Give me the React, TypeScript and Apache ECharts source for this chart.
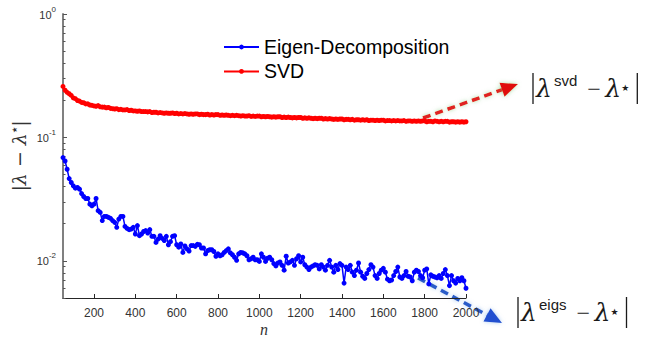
import React, { useEffect, useRef } from "react";
import * as echarts from "echarts";

const N_START = 50;
const N_STEP = 10;

const seriesNames = ["Eigen-Decomposition", "SVD"];

// |lambda - lambda*| for eigen-decomposition, n = 50, 60, ..., 2000
const eigValues = [
  0.0686, 0.0644, 0.0552, 0.0464, 0.0431, 0.0405, 0.0388, 0.0393, 0.0381, 0.0351,
  0.0332, 0.0320, 0.0320, 0.0288, 0.0279, 0.0288, 0.0320, 0.0255, 0.0247, 0.0212,
  0.0229, 0.0229, 0.0225, 0.0221, 0.0212, 0.0205, 0.0187, 0.0218, 0.0229, 0.0229,
  0.0190, 0.0183, 0.0179, 0.0181, 0.0187, 0.0165, 0.0193, 0.0160, 0.0165, 0.0173,
  0.0176, 0.0168, 0.0179, 0.0158, 0.0158, 0.0141, 0.0150, 0.0160, 0.0152, 0.0146,
  0.0158, 0.0135, 0.0143, 0.0158, 0.0160, 0.0135, 0.0129, 0.0137, 0.0117, 0.0132,
  0.0125, 0.0120, 0.0133, 0.0133, 0.0131, 0.0136, 0.0135, 0.0127, 0.0127, 0.0114,
  0.0121, 0.0123, 0.0123, 0.0119, 0.0109, 0.0114, 0.0110, 0.0112, 0.0117, 0.0121,
  0.0125, 0.0116, 0.0112, 0.0107, 0.0101, 0.0114, 0.0117, 0.0116, 0.0114, 0.0110,
  0.0102, 0.0104, 0.0107, 0.0102, 0.0102, 0.0099, 0.0114, 0.0107, 0.0099, 0.0105,
  0.0107, 0.0102, 0.0095, 0.0091, 0.0096, 0.0098, 0.0092, 0.0084, 0.0109, 0.0096,
  0.0098, 0.0101, 0.0092, 0.0104, 0.0110, 0.0098, 0.0107, 0.0093, 0.0089, 0.0085,
  0.0089, 0.0091, 0.0093, 0.0092, 0.0086, 0.0093, 0.0089, 0.0084, 0.0092, 0.0101,
  0.0089, 0.0081, 0.0092, 0.0085, 0.0095, 0.0092, 0.0066, 0.0089, 0.0085, 0.0092,
  0.0081, 0.0076, 0.0084, 0.0096, 0.0081, 0.0075, 0.0072, 0.0079, 0.0085, 0.0093,
  0.0089, 0.0076, 0.0072, 0.0079, 0.0084, 0.0087, 0.0081, 0.0071, 0.0069, 0.0070,
  0.0076, 0.0082, 0.0089, 0.0074, 0.0072, 0.0076, 0.0082, 0.0075, 0.0074, 0.0069,
  0.0081, 0.0084, 0.0082, 0.0076, 0.0073, 0.0084, 0.0086, 0.0065, 0.0077, 0.0075,
  0.0074, 0.0073, 0.0076, 0.0072, 0.0079, 0.0085, 0.0076, 0.0063, 0.0076, 0.0069,
  0.0066, 0.0072, 0.0069, 0.0073, 0.0069, 0.0060,
];

// |lambda - lambda*| for SVD, n = 50, 60, ..., 2000
const svdValues = [
  0.259, 0.241, 0.232, 0.226, 0.219, 0.209, 0.206, 0.199, 0.197, 0.192,
  0.191, 0.187, 0.187, 0.183, 0.182, 0.180, 0.179, 0.181, 0.177, 0.176,
  0.176, 0.174, 0.175, 0.172, 0.171, 0.170, 0.171, 0.168, 0.169, 0.167,
  0.167, 0.168, 0.165, 0.166, 0.164, 0.164, 0.163, 0.164, 0.162, 0.162,
  0.162, 0.161, 0.162, 0.159, 0.160, 0.160, 0.158, 0.159, 0.158, 0.157,
  0.158, 0.157, 0.157, 0.158, 0.156, 0.157, 0.155, 0.156, 0.155, 0.156,
  0.155, 0.154, 0.155, 0.154, 0.155, 0.155, 0.153, 0.154, 0.153, 0.153,
  0.154, 0.152, 0.153, 0.152, 0.153, 0.153, 0.151, 0.152, 0.151, 0.152,
  0.151, 0.150, 0.151, 0.150, 0.151, 0.150, 0.149, 0.150, 0.149, 0.149,
  0.150, 0.148, 0.149, 0.148, 0.149, 0.149, 0.147, 0.148, 0.147, 0.148,
  0.147, 0.146, 0.147, 0.146, 0.147, 0.147, 0.145, 0.146, 0.145, 0.146,
  0.145, 0.144, 0.145, 0.144, 0.145, 0.145, 0.143, 0.144, 0.143, 0.144,
  0.143, 0.142, 0.143, 0.142, 0.143, 0.143, 0.141, 0.142, 0.141, 0.142,
  0.141, 0.140, 0.141, 0.140, 0.141, 0.141, 0.139, 0.140, 0.140, 0.139,
  0.140, 0.138, 0.139, 0.139, 0.138, 0.139, 0.138, 0.139, 0.137, 0.138,
  0.138, 0.137, 0.138, 0.137, 0.138, 0.138, 0.136, 0.137, 0.137, 0.136,
  0.137, 0.136, 0.137, 0.136, 0.136, 0.137, 0.135, 0.136, 0.136, 0.135,
  0.136, 0.135, 0.136, 0.135, 0.136, 0.136, 0.134, 0.135, 0.135, 0.134,
  0.136, 0.135, 0.134, 0.135, 0.134, 0.135, 0.135, 0.133, 0.134, 0.134,
  0.133, 0.134, 0.133, 0.134, 0.133, 0.134,
];

const xTickValues = [200, 400, 600, 800, 1000, 1200, 1400, 1600, 1800, 2000];
const yMajorTicks = [0.01, 0.1, 1];
const yMinorTicks = [
  0.005, 0.006, 0.007, 0.008, 0.009,
  0.02, 0.03, 0.04, 0.05, 0.06, 0.07, 0.08, 0.09,
  0.2, 0.3, 0.4, 0.5, 0.6, 0.7, 0.8, 0.9,
];

function toPairs(values: number[]) {
  return values.map((v, i) => [N_START + i * N_STEP, v]);
}

function arrow(x1: number, y1: number, x2: number, y2: number, color: string, headColor: string, glow: string) {
  const dx = x2 - x1;
  const dy = y2 - y1;
  const L = Math.hypot(dx, dy);
  const ux = dx / L;
  const uy = dy / L;
  const headLen = 17;
  const headHalf = 7.5;
  const bx = x2 - ux * headLen;
  const by = y2 - uy * headLen;
  const px = -uy;
  const py = ux;
  return [
    {
      type: "line",
      shape: { x1, y1, x2: bx + ux * 2, y2: by + uy * 2 },
      style: { stroke: color, lineWidth: 3.5, lineDash: [8, 5], shadowBlur: 4, shadowColor: glow },
    },
    {
      type: "polygon",
      shape: {
        points: [
          [x2, y2],
          [bx + px * headHalf, by + py * headHalf],
          [bx - px * headHalf, by - py * headHalf],
        ],
      },
      style: { fill: headColor, shadowBlur: 4, shadowColor: glow },
    },
  ];
}

function mathLabel(x0: number, top: number, sup: string, supW: number) {
  const bottom = top + 31;
  const base = top + 24;
  const ink = "#1a1a1a";
  const lamFont = 25;
  const lamFamily = "DejaVu Serif";
  const els: any[] = [];
  els.push({ type: "line", shape: { x1: x0, y1: top, x2: x0, y2: bottom }, style: { stroke: ink, lineWidth: 1.3 } });
  els.push({
    type: "text", x: x0 + 3, y: base - 0.35 * lamFont,
    style: { text: "λ", fontSize: lamFont, fontFamily: lamFamily, fontStyle: "italic", fill: ink, align: "left", verticalAlign: "middle" },
  });
  const supX = x0 + 21;
  els.push({
    type: "text", x: supX, y: base - 11 - 0.3465 * 15,
    style: { text: sup, fontSize: 15, fontFamily: "Liberation Sans", fill: ink, align: "left", verticalAlign: "middle" },
  });
  const minusX = supX + supW + 10;
  els.push({
    type: "text", x: minusX, y: base - 0.3375 * 24,
    style: { text: "\u2212", fontSize: 24, fontFamily: "Liberation Serif", fill: ink, align: "left", verticalAlign: "middle" },
  });
  const lam2X = minusX + 18;
  els.push({
    type: "text", x: lam2X, y: base - 0.35 * lamFont,
    style: { text: "λ", fontSize: lamFont, fontFamily: lamFamily, fontStyle: "italic", fill: ink, align: "left", verticalAlign: "middle" },
  });
  const starX = lam2X + 16;
  els.push({
    type: "text", x: starX, y: top + 15,
    style: { text: "\u2605", fontSize: 9, fontFamily: "DejaVu Sans", fill: ink, align: "left", verticalAlign: "middle" },
  });
  const bar2 = starX + 16;
  els.push({ type: "line", shape: { x1: bar2, y1: top, x2: bar2, y2: bottom }, style: { stroke: ink, lineWidth: 1.3 } });
  return els;
}

export default function App() {
  const ref = useRef<HTMLDivElement>(null);

  useEffect(() => {
    if (!ref.current) return;
    const chart = echarts.init(ref.current, undefined, { renderer: "svg" });

    const yLabelRich = {
      b: { fontSize: 11, lineHeight: 12, padding: [7, 0, 0, 0], verticalAlign: "bottom", color: "#333", fontFamily: "Liberation Sans" },
      s: { fontSize: 8, lineHeight: 9, padding: [0, 0, 7, 0], verticalAlign: "bottom", color: "#333", fontFamily: "Liberation Sans" },
    };

    const option: any = {
      animation: false,
      backgroundColor: "#ffffff",
      grid: { left: 63, top: 14, width: 403, height: 284, containLabel: false, outerBoundsMode: "none" },
      legend: {
        orient: "vertical",
        left: 218,
        top: 32,
        itemWidth: 35,
        itemHeight: 6,
        itemGap: 4.4,
        itemTextGap: 3,
        textStyle: { fontSize: 19.5, lineHeight: 20, color: "#000", fontFamily: "Liberation Sans" },
        data: seriesNames,
      },
      xAxis: {
        type: "value",
        min: 50,
        max: 2000,
        axisLine: { show: true, onZero: false, lineStyle: { color: "#262626", width: 1 } },
        axisTick: { show: true, inside: true, length: 4, customValues: xTickValues, lineStyle: { color: "#262626" } },
        axisLabel: {
          customValues: xTickValues,
          margin: 8,
          fontSize: 12,
          lineHeight: 13,
          color: "#333",
          fontFamily: "Liberation Sans",
          formatter: (v: number) => String(v),
        },
        splitLine: { show: false },
      },
      yAxis: [
        {
          type: "log",
          logBase: 10,
          min: 0.005,
          max: 1,
          axisLine: { show: true, lineStyle: { color: "#808080", width: 2 } },
          axisTick: { show: true, inside: true, length: 4, customValues: yMajorTicks, lineStyle: { color: "#555" } },
          axisLabel: {
            customValues: yMajorTicks,
            margin: 7,
            formatter: (v: number) => `{b|10}{s|${Math.round(Math.log10(v))}}`,
            rich: yLabelRich,
          },
          splitLine: { show: false },
        },
        {
          type: "log",
          logBase: 10,
          min: 0.005,
          max: 1,
          position: "left",
          axisLine: { show: false },
          axisTick: { show: true, inside: true, length: 2.5, customValues: yMinorTicks, lineStyle: { color: "#555" } },
          axisLabel: { show: false },
          splitLine: { show: false },
        },
      ],
      series: [
        {
          name: seriesNames[0],
          type: "line",
          data: toPairs(eigValues),
          yAxisIndex: 0,
          symbol: "circle",
          symbolSize: 5,
          showAllSymbol: true,
          clip: false,
          lineStyle: { color: "#0000ff", width: 1.5 },
          itemStyle: { color: "#0000ff" },
        },
        {
          name: seriesNames[1],
          type: "line",
          data: toPairs(svdValues),
          yAxisIndex: 0,
          symbol: "circle",
          symbolSize: 5,
          showAllSymbol: true,
          clip: false,
          lineStyle: { color: "#ff0000", width: 1.5 },
          itemStyle: { color: "#ff0000" },
        },
      ],
      graphic: [
        ...arrow(423, 118, 518, 84, "#e02020", "#e01010", "rgba(120,200,120,0.6)"),
        ...arrow(418, 278, 502, 323, "#2c5cc8", "#2050d0", "rgba(120,170,230,0.6)"),
        ...mathLabel(533, 73, "svd", 23.3),
        ...mathLabel(518, 297, "eigs", 27.5),
        {
          type: "text",
          x: 18,
          y: 156,
          rotation: Math.PI / 2,
          style: {
            text: "{u||}{a|λ}{u| \u2212 }{a|λ}{s|\u2605}{u||}",
            align: "center",
            verticalAlign: "middle",
            fill: "#333",
            rich: {
              u: { fontSize: 19, fontFamily: "DejaVu Serif", color: "#444", lineHeight: 21, verticalAlign: "bottom" },
              a: { fontSize: 19, fontFamily: "DejaVu Serif", fontStyle: "italic", color: "#444", lineHeight: 21, verticalAlign: "bottom" },
              s: { fontSize: 7, fontFamily: "DejaVu Sans", color: "#444", lineHeight: 8, padding: [0, 0, 10, 0], verticalAlign: "bottom" },
            },
          },
        },
        {
          type: "text",
          x: 264,
          y: 329,
          style: { text: "n", fontSize: 16, lineHeight: 15, fontFamily: "Liberation Serif", fontStyle: "italic", fill: "#333", align: "center", verticalAlign: "middle" },
        },
      ],
    };

    chart.setOption(option);
    return () => chart.dispose();
  }, []);

  return <div ref={ref} style={{ position: "fixed", left: 0, top: 0, width: 649, height: 337 }} />;
}
